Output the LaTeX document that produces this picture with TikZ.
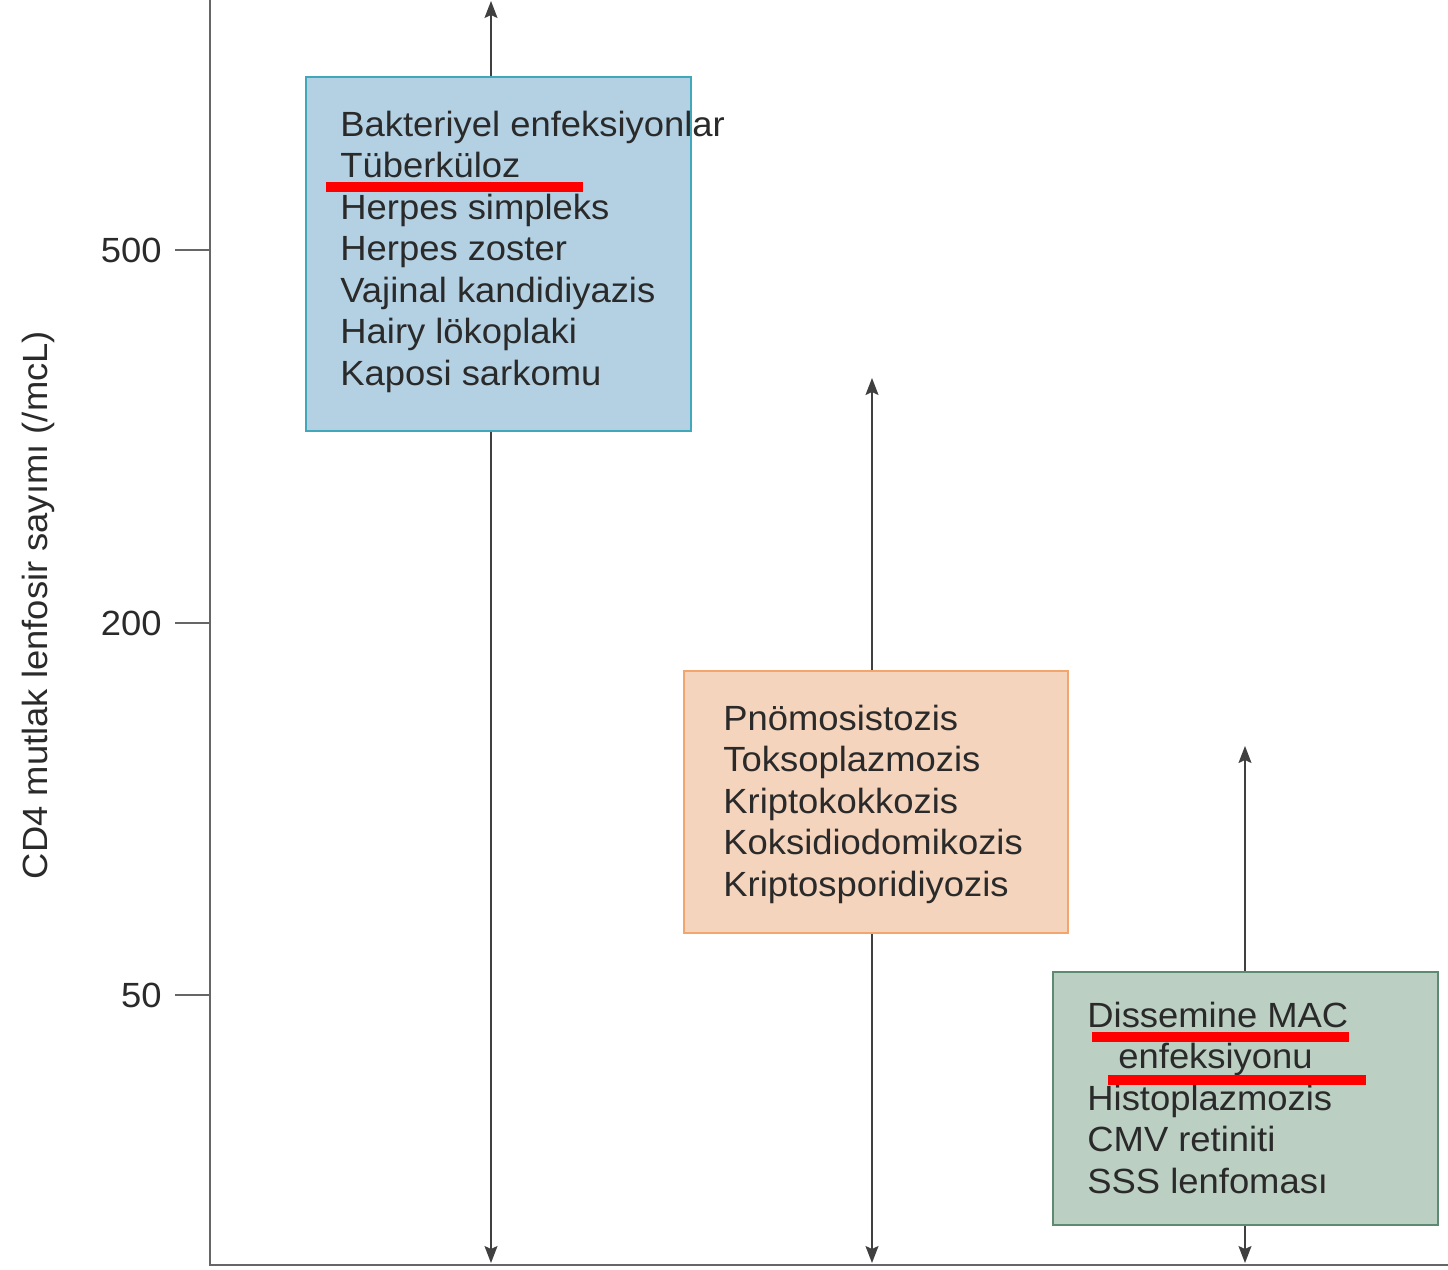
\documentclass[tikz,border=0pt]{standalone}
\usepackage{fontspec}
\setmainfont{Liberation Sans}[FakeStretch=1.04]
\usepackage{tikz}
\usetikzlibrary{positioning, arrows.meta}
\definecolor{boxblue}{HTML}{B4D1E3}
\definecolor{lineblue}{HTML}{40A8BA}
\definecolor{boxorange}{HTML}{F5D4BD}
\definecolor{lineorange}{HTML}{F2A66E}
\definecolor{boxgreen}{HTML}{BCCFC3}
\definecolor{linegreen}{HTML}{5E8A72}
\definecolor{ink}{HTML}{2A2A2A}
\tikzset{
x=0.5pt, y=-0.5pt, % one unit is one pixel of the reference
box/.style={draw, line width=1pt, inner sep=0pt}, % the coloured boxes
items/.style={anchor=north west, inner sep=0pt, align=left, text=ink,
  font=\fontsize{17.5}{20.75}\selectfont}, % the lists inside the boxes
ticklabel/.style={anchor=east, inner sep=0pt, text=ink, font=\fontsize{17.5}{20}\selectfont},
spanarrow/.style={draw=black!75, line width=0.8pt, -{Stealth[length=8.5pt,width=6.5pt,inset=1.5pt]}}, % the arrows
redline/.style={draw=red, line width=5pt}, % red underlines
}
\begin{document}
\begin{tikzpicture}
\useasboundingbox (0,0) rectangle (1448,1270);

% axes
\coordinate (o) at (210,1265);
\coordinate (ytop) at (210,0);
\coordinate (xend) at (1448,1265);
\draw[black!60, line width=1pt] (ytop) -- (o) -- (xend);
\foreach \v/\y in {500/250, 200/623, 50/995} {
  \draw[black!60, line width=1pt] (175,\y) -- (210,\y);
  \node[ticklabel] (tick\v) at (162,\y) {\v};
}
\node[rotate=90, text=ink, font=\fontsize{17.5}{20}\selectfont] (ylabel) at (38,605) {CD4 mutlak lenfosir sayımı (/mcL)};

% boxes
\node[box, draw=lineblue, fill=boxblue, minimum width=192.5pt, minimum height=177pt] (blue) at (498.5,254) {};
\node[box, draw=lineorange, fill=boxorange, minimum width=192pt, minimum height=131pt] (orange) at (876,802) {};
\node[box, draw=linegreen, fill=boxgreen, minimum width=192.5pt, minimum height=126.5pt] (green) at (1245.5,1098) {};

% arrows
\coordinate (a1) at (491,1);
\coordinate (b1) at (491,1263);
\coordinate (a2) at (872,378);
\coordinate (b2) at (872,1263);
\coordinate (a3) at (1245,746);
\coordinate (b3) at (1245,1263);
\draw[spanarrow] (blue.north -| a1) -- (a1);
\draw[spanarrow] (blue.south -| b1) -- (b1);
\draw[spanarrow] (orange.north -| a2) -- (a2);
\draw[spanarrow] (orange.south -| b2) -- (b2);
\draw[spanarrow] (green.north -| a3) -- (a3);
\draw[spanarrow] (green.south -| b3) -- (b3);

% lists
\node[items] (bluetext) at (340,110.5) {Bakteriyel enfeksiyonlar\\Tüberküloz\\Herpes simpleks\\Herpes zoster\\Vajinal kandidiyazis\\Hairy lökoplaki\\Kaposi sarkomu};
\node[items] (orangetext) at (723,704.5) {Pnömosistozis\\Toksoplazmozis\\Kriptokokkozis\\Koksidiodomikozis\\Kriptosporidiyozis};
\node[items] (greentext) at (1087,1001.5) {Dissemine MAC\\\hspace*{15.5pt}enfeksiyonu\\Histoplazmozis\\CMV retiniti\\SSS lenfoması};

% red underlines
\draw[redline] (326,187) -- (583,187);
\draw[redline] (1092,1037) -- (1349,1037);
\draw[redline] (1108,1080) -- (1366,1080);
\end{tikzpicture}
\end{document}
